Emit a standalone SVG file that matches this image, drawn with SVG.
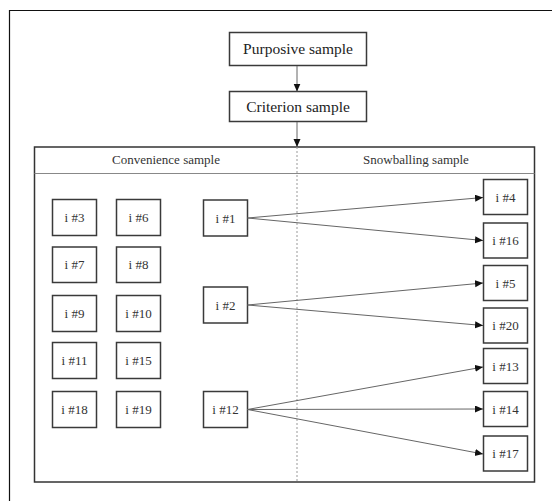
<svg xmlns="http://www.w3.org/2000/svg" width="552" height="501" viewBox="0 0 552 501">
<defs>
<marker id="ah" markerUnits="userSpaceOnUse" markerWidth="9" markerHeight="8" refX="8" refY="3.5" orient="auto">
<path d="M0,0 L8,3.5 L0,7 z" fill="#111"/>
</marker>
<style>
.box{fill:#fff;stroke:#3a3a3a;stroke-width:1.5}
.big{font-family:"Liberation Serif","Times New Roman",serif;font-size:15.5px;fill:#222;text-anchor:middle}
.lbl{font-family:"Liberation Serif","Times New Roman",serif;font-size:13px;fill:#333;text-anchor:middle}
.hdr{font-family:"Liberation Serif","Times New Roman",serif;font-size:13px;fill:#333;text-anchor:middle}
.con{stroke:#666;stroke-width:1;fill:none;marker-end:url(#ah)}
</style>
</defs>
<rect width="552" height="501" fill="#fff"/>
<path d="M9.5,510 V10.5 H560" fill="none" stroke="#111" stroke-width="1.2"/>

<g id="container">
<rect x="34.5" y="147" width="500" height="335" fill="none" stroke="#333" stroke-width="1.5"/>
<line x1="34.5" y1="173.5" x2="534.5" y2="173.5" stroke="#888" stroke-width="1.2"/>
<line x1="297" y1="147" x2="297" y2="482" stroke="#999" stroke-width="1" stroke-dasharray="2,2"/>
<text class="hdr" x="166" y="164">Convenience sample</text>
<text class="hdr" x="416" y="164">Snowballing  sample</text>
</g>

<g id="purposive"><rect class="box" x="229.5" y="32.5" width="137" height="33"/><text class="big" x="298" y="54">Purposive sample</text></g>
<g id="criterion"><rect class="box" x="229.5" y="91.5" width="137" height="30"/><text class="big" x="298" y="111.5">Criterion sample</text></g>

<g id="i3"><rect class="box" x="52.5" y="199.5" width="44" height="36"/><text class="lbl" x="74.5" y="222">i #3</text></g>
<g id="i6"><rect class="box" x="116.5" y="199.5" width="44" height="36"/><text class="lbl" x="138.5" y="222">i #6</text></g>
<g id="i7"><rect class="box" x="52.5" y="247" width="44" height="35.5"/><text class="lbl" x="74.5" y="269">i #7</text></g>
<g id="i8"><rect class="box" x="116.5" y="247" width="44" height="35.5"/><text class="lbl" x="138.5" y="269">i #8</text></g>
<g id="i9"><rect class="box" x="52.5" y="295.5" width="44" height="36"/><text class="lbl" x="74.5" y="318">i #9</text></g>
<g id="i10"><rect class="box" x="116.5" y="295.5" width="44" height="36"/><text class="lbl" x="138.5" y="318">i #10</text></g>
<g id="i11"><rect class="box" x="52.5" y="342.5" width="44" height="36"/><text class="lbl" x="74.5" y="365">i #11</text></g>
<g id="i15"><rect class="box" x="116.5" y="342.5" width="44" height="36"/><text class="lbl" x="138.5" y="365">i #15</text></g>
<g id="i18"><rect class="box" x="52.5" y="391.5" width="44" height="36"/><text class="lbl" x="74.5" y="414">i #18</text></g>
<g id="i19"><rect class="box" x="116.5" y="391.5" width="44" height="36"/><text class="lbl" x="138.5" y="414">i #19</text></g>

<g id="i1"><rect class="box" x="203.5" y="200" width="44" height="36"/><text class="lbl" x="225.5" y="222.5">i #1</text></g>
<g id="i2"><rect class="box" x="203.5" y="287" width="44" height="36"/><text class="lbl" x="225.5" y="309.5">i #2</text></g>
<g id="i12"><rect class="box" x="203.5" y="391.5" width="44" height="36"/><text class="lbl" x="225.5" y="414">i #12</text></g>

<g id="i4"><rect class="box" x="483.5" y="179.5" width="44" height="35"/><text class="lbl" x="505.5" y="201.5">i #4</text></g>
<g id="i16"><rect class="box" x="483.5" y="223" width="44" height="35"/><text class="lbl" x="505.5" y="245">i #16</text></g>
<g id="i5"><rect class="box" x="483.5" y="265.5" width="44" height="35"/><text class="lbl" x="505.5" y="287.5">i #5</text></g>
<g id="i20"><rect class="box" x="483.5" y="308" width="44" height="35"/><text class="lbl" x="505.5" y="330">i #20</text></g>
<g id="i13"><rect class="box" x="483.5" y="348.5" width="44" height="35"/><text class="lbl" x="505.5" y="370.5">i #13</text></g>
<g id="i14"><rect class="box" x="483.5" y="391.5" width="44" height="35"/><text class="lbl" x="505.5" y="413.5">i #14</text></g>
<g id="i17"><rect class="box" x="483.5" y="436" width="44" height="35"/><text class="lbl" x="505.5" y="458">i #17</text></g>

<g id="connectors">
<line class="con" x1="297" y1="66" x2="297" y2="91.5"/>
<line class="con" x1="297" y1="122" x2="297" y2="147"/>
<line class="con" x1="247.5" y1="218" x2="483" y2="197.5"/>
<line class="con" x1="247.5" y1="218" x2="483" y2="240.5"/>
<line class="con" x1="247.5" y1="305" x2="483" y2="283"/>
<line class="con" x1="247.5" y1="305" x2="483" y2="325.5"/>
<line class="con" x1="247.5" y1="409.5" x2="483" y2="367"/>
<line class="con" x1="247.5" y1="409.5" x2="483" y2="409"/>
<line class="con" x1="247.5" y1="409.5" x2="483" y2="454"/>
</g>
</svg>
